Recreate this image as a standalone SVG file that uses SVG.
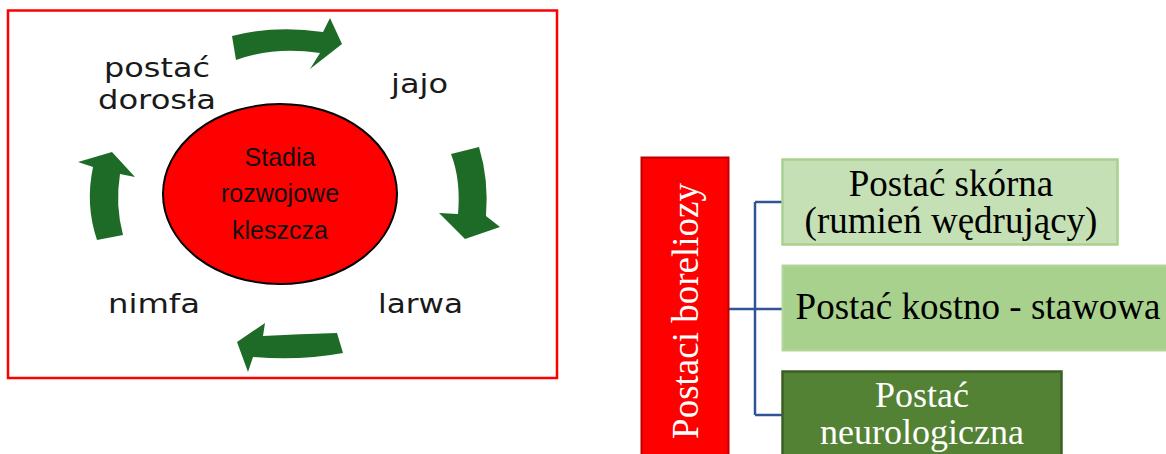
<svg xmlns="http://www.w3.org/2000/svg" width="1166" height="454" viewBox="0 0 1166 454">
<style>
.lbl{font-family:"DejaVu Sans",sans-serif;font-size:27px;fill:#1a1a1a}
.arr{fill:#1e6b27}
.ser{font-family:"Liberation Serif","Times New Roman",serif;text-anchor:middle}
.conn{stroke:#2f5597;stroke-width:2.5;fill:none}
</style>
<rect width="1166" height="454" fill="#ffffff"/>
<g id="cycle-frame">
<rect x="8" y="10.5" width="549" height="367.5" fill="#ffffff" stroke="#ff0000" stroke-width="2.5"/>
</g>
<g id="center">
<ellipse cx="280" cy="194" rx="117" ry="90" fill="#ff0000" stroke="#000000" stroke-width="2"/>
<g font-family="'Liberation Sans',Arial,sans-serif" font-size="25" fill="#111" text-anchor="middle">
<text x="280" y="166">Stadia</text>
<text x="280" y="202">rozwojowe</text>
<text x="280" y="239">kleszcza</text>
</g>
</g>
<g id="stage-adult">
<text class="lbl" x="104" y="77" textLength="106" lengthAdjust="spacingAndGlyphs">postać</text>
<text class="lbl" x="98" y="109" textLength="118" lengthAdjust="spacingAndGlyphs">dorosła</text>
</g>
<g id="stage-egg"><text class="lbl" x="391" y="93" textLength="57" lengthAdjust="spacingAndGlyphs">jajo</text></g>
<g id="stage-larva"><text class="lbl" x="378" y="313" textLength="85" lengthAdjust="spacingAndGlyphs">larwa</text></g>
<g id="stage-nymph"><text class="lbl" x="108" y="313" textLength="92" lengthAdjust="spacingAndGlyphs">nimfa</text></g>
<g id="cycle-arrows">
<path class="arr" d="M232,36 Q275,25 323,32 L330,18 L342,44 L310,69 L320,53 Q274,46 236,60 Z"/>
<path class="arr" d="M451,154 L479,147 Q489,180 486,216 L500,227 L465,239 L439,213 L458,214 Q461,180 451,154 Z"/>
<path class="arr" d="M337,333 L343,353 Q300,361 253,357 L248,372 L237,342 L265,323 L263,336 Q300,334 337,333 Z"/>
<path class="arr" d="M97,240 L123,235 Q115,205 120,174 L135,177 L112,152 L78,162 L93,167 Q85,205 97,240 Z"/>
</g>
<g id="connectors">
<path class="conn" d="M729,309 H782"/>
<path class="conn" d="M755,202 V415"/>
<path class="conn" d="M755,202 H782"/>
<path class="conn" d="M755,415 H782"/>
</g>
<g id="root">
<rect x="641.5" y="157.5" width="87" height="310" fill="#ff0000" stroke="#c00000" stroke-width="2"/>
<text class="ser" transform="translate(698,311) rotate(-90)" font-size="37" fill="#ffffff">Postaci boreliozy</text>
</g>
<g id="skin">
<rect x="782.5" y="159.5" width="335" height="85" fill="#c5e0b4" stroke="#a9d18e" stroke-width="2.5"/>
<text class="ser" x="951" y="196" font-size="37" fill="#000">Postać skórna</text>
<text class="ser" x="951" y="233" font-size="37" fill="#000">(rumień wędrujący)</text>
</g>
<g id="joint">
<rect x="782.5" y="265.5" width="400" height="85" fill="#a9d18e" stroke="#b3d79b" stroke-width="2"/>
<text class="ser" x="978" y="319" font-size="37" fill="#000">Postać kostno - stawowa</text>
</g>
<g id="neuro">
<rect x="782.5" y="371.5" width="279" height="100" fill="#548235" stroke="#3c5f26" stroke-width="2.5"/>
<text class="ser" x="922" y="407" font-size="36" fill="#ffffff">Postać</text>
<text class="ser" x="922" y="444" font-size="36" fill="#ffffff">neurologiczna</text>
</g>
</svg>
